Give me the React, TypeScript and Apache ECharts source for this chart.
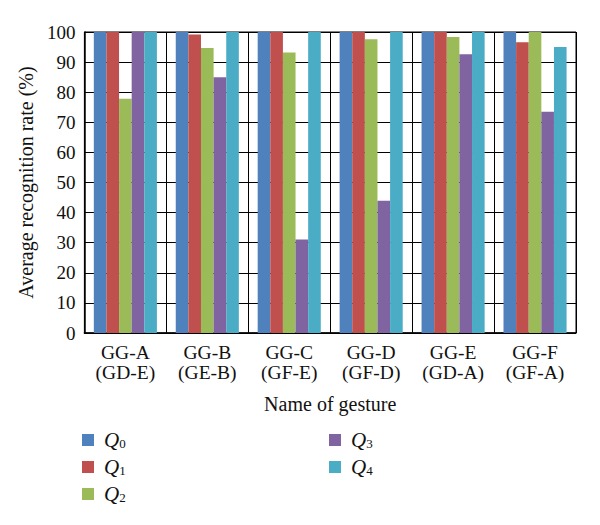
import React, { useEffect, useRef } from "react";
import * as echarts from "echarts";

const categories = ["GG-A\n(GD-E)", "GG-B\n(GE-B)", "GG-C\n(GF-E)", "GG-D\n(GF-D)", "GG-E\n(GD-A)", "GG-F\n(GF-A)"];
const seriesNames = ["Q0", "Q1", "Q2", "Q3", "Q4"];
const q0 = [100, 100, 100, 100, 100, 100];
const q1 = [100, 99.2, 100, 100, 100, 96.6];
const q2 = [77.8, 94.7, 93.2, 97.6, 98.3, 100];
const q3 = [100, 85.0, 31.1, 43.9, 92.6, 73.5];
const q4 = [100, 100, 100, 100, 100, 95.0];
const yTicks = [0, 10, 20, 30, 40, 50, 60, 70, 80, 90, 100];
const colors = ["#4F81BD", "#C0504D", "#9BBB59", "#8064A2", "#4BACC6"];

const FONT = "Liberation Serif";

export default function App() {
  const ref = useRef<HTMLDivElement>(null);
  useEffect(() => {
    if (!ref.current) return;
    const chart = echarts.init(ref.current, null, { renderer: "svg" });
    const values = [q0, q1, q2, q3, q4];
    const legendText = {
      fontFamily: FONT,
      color: "#111",
      rich: {
        q: { fontFamily: FONT, fontStyle: "italic", fontSize: 21, color: "#111", lineHeight: 20, padding: [0, 0, 0, 5] },
        s: { fontFamily: FONT, fontSize: 13, color: "#111", verticalAlign: "bottom", lineHeight: 20, padding: [8, 0, 0, 0] },
      },
    };
    const fmt = (name: string) => `{q|Q}{s|${name.slice(1)}}`;
    const legendBase = {
      orient: "vertical",
      top: 421,
      padding: 0,
      itemWidth: 12,
      itemHeight: 12,
      itemGap: 5.5,
      icon: "rect",
      formatter: fmt,
      textStyle: legendText,
    };
    chart.setOption({
      animation: false,
      color: colors,
      grid: { left: 74, right: 32, top: 24, bottom: 200, show: true, borderColor: "#000", borderWidth: 1 },
      legend: [
        { ...legendBase, data: seriesNames.slice(0, 3), left: 74 },
        { ...legendBase, data: seriesNames.slice(3), left: 321 },
      ],
      xAxis: {
        type: "category",
        data: categories,
        name: "Name of gesture",
        nameLocation: "middle",
        nameGap: 61,
        nameTextStyle: { fontFamily: FONT, fontSize: 20, color: "#111" },
        axisLine: { lineStyle: { color: "#000", width: 1.5 } },
        axisTick: { show: false },
        splitLine: { show: true, lineStyle: { color: "#000", width: 1 } },
        axisLabel: { fontFamily: FONT, fontSize: 19.5, color: "#111", lineHeight: 20, margin: 9 },
      },
      yAxis: {
        type: "value",
        min: yTicks[0],
        max: yTicks[yTicks.length - 1],
        interval: 10,
        name: "Average recognition rate (%)",
        nameLocation: "middle",
        nameGap: 48,
        nameTextStyle: { fontFamily: FONT, fontSize: 20, color: "#111" },
        axisLine: { show: true, lineStyle: { color: "#000", width: 1.5 } },
        axisTick: { show: false },
        splitLine: { show: true, lineStyle: { color: "#000", width: 1 } },
        axisLabel: { fontFamily: FONT, fontSize: 19, color: "#111", margin: 9 },
      },
      series: seriesNames.map((n, i) => ({
        name: n,
        type: "bar",
        data: values[i],
        barGap: "0%",
        barCategoryGap: "23%",
        itemStyle: { color: colors[i] },
      })),
    });
    return () => chart.dispose();
  }, []);
  return <div ref={ref} style={{ width: 600, height: 525 }} />;
}
